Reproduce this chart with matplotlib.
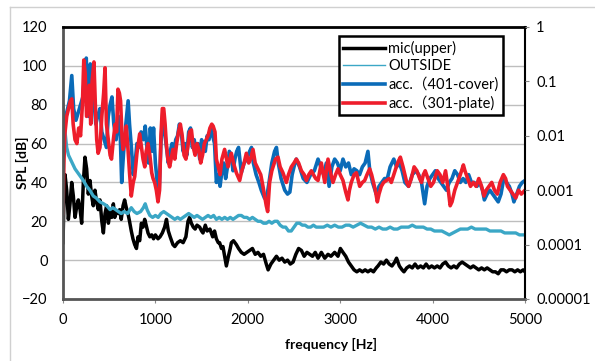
import matplotlib
matplotlib.use("Agg")
import matplotlib.pyplot as plt
import numpy as np
from matplotlib.lines import Line2D

plt.rcParams["font.family"] = ["Lato", "Noto Sans CJK JP", "DejaVu Sans"]

# (frequency [Hz], SPL [dB])
mic_upper = [
    (0, 9), (10, 30), (22, 44), (40, 36), (58, 21), (76, 29), (94, 40), (112, 33), (130, 22), (150, 28),
    (166, 31), (185, 26), (202, 19), (220, 40), (238, 53), (256, 47), (274, 34), (292, 41), (310, 33), (328, 28),
    (346, 36), (364, 30), (382, 26), (400, 31), (420, 20), (437, 14), (455, 24), (472, 28), (491, 19), (510, 25),
    (527, 22), (545, 29), (560, 22), (580, 25), (600, 24), (613, 26), (630, 21), (650, 28), (667, 31), (685, 27),
    (703, 24), (720, 20), (739, 15), (757, 11), (776, 8), (795, 6), (812, 12), (830, 10), (848, 19), (866, 17),
    (884, 21), (900, 18), (920, 14), (940, 12), (960, 13), (980, 11), (1000, 13), (1028, 11), (1050, 12), (1075, 14),
    (1100, 17), (1120, 21), (1140, 15), (1160, 12), (1190, 8), (1210, 7), (1240, 9), (1270, 10), (1300, 9), (1330, 12),
    (1353, 20), (1370, 22), (1389, 19), (1410, 17), (1430, 16), (1450, 18), (1479, 17), (1500, 15), (1515, 14), (1540, 18),
    (1560, 15), (1590, 16), (1620, 12), (1640, 15), (1660, 11), (1680, 9), (1695, 9), (1715, 6), (1731, 7), (1750, 2),
    (1768, -3), (1790, 2), (1810, 6), (1822, 9), (1845, 10), (1876, 8), (1900, 6), (1930, 4), (1960, 3), (1990, 4),
    (2020, 5), (2050, 6), (2080, 3), (2110, 4), (2140, 2), (2170, 3), (2200, -2), (2220, -5), (2250, -2), (2280, 0),
    (2310, 2), (2340, 0), (2370, 1), (2400, -1), (2430, 0), (2460, -2), (2490, -1), (2520, 3), (2550, 6), (2580, 5),
    (2610, 2), (2640, 4), (2670, 3), (2700, 2), (2730, 4), (2760, 1), (2796, 4), (2833, 1), (2868, 3), (2900, 2),
    (2940, 4), (2976, 2), (3002, 6), (3030, 4), (3060, 2), (3090, -1), (3120, -3), (3150, -5), (3180, -6), (3210, -5),
    (3240, -6), (3270, -5), (3300, -6), (3330, -5), (3360, -6), (3390, -4), (3409, -3), (3440, -1), (3470, -2), (3500, 0),
    (3530, -2), (3560, -3), (3590, -1), (3610, 1), (3640, -3), (3670, -5), (3690, -6), (3720, -4), (3750, -3), (3780, -4),
    (3810, -2), (3840, -4), (3870, -3), (3900, -4), (3930, -2), (3960, -4), (3990, -3), (4020, -4), (4050, -3), (4080, -4),
    (4110, -2), (4140, -1), (4170, -3), (4200, -4), (4230, -3), (4260, -4), (4290, -2), (4320, -1), (4350, -2), (4380, -3),
    (4410, -4), (4440, -3), (4470, -4), (4500, -5), (4530, -4), (4560, -5), (4590, -4), (4620, -5), (4650, -6), (4680, -6),
    (4710, -7), (4740, -5), (4770, -5), (4800, -6), (4830, -5), (4860, -5), (4890, -6), (4920, -5), (4950, -6), (4980, -5),
    (5000, -6),
]

outside = [
    (0, 80), (8, 74), (20, 67), (40, 58), (60, 54), (80, 52), (100, 50), (130, 47), (160, 45), (190, 43),
    (220, 41), (256, 38), (290, 36), (328, 33), (360, 32), (400, 30), (440, 29), (473, 28), (509, 26), (540, 27),
    (570, 26), (600, 25), (630, 24), (660, 25), (700, 24), (739, 27), (770, 25), (800, 24), (840, 25), (870, 27),
    (890, 29), (910, 26), (940, 23), (970, 22), (1000, 23), (1030, 22), (1060, 24), (1090, 25), (1120, 24), (1150, 23),
    (1180, 22), (1210, 21), (1240, 22), (1270, 21), (1300, 22), (1330, 23), (1360, 24), (1390, 23), (1420, 22), (1450, 23),
    (1480, 22), (1510, 21), (1540, 22), (1570, 23), (1600, 22), (1630, 23), (1660, 21), (1690, 22), (1720, 21), (1750, 22),
    (1780, 21), (1810, 22), (1840, 21), (1870, 22), (1900, 23), (1930, 23), (1960, 22), (1990, 22), (2020, 21), (2050, 22),
    (2080, 21), (2110, 20), (2140, 20), (2170, 19), (2200, 19), (2230, 20), (2260, 19), (2290, 20), (2320, 20), (2350, 18),
    (2380, 17), (2410, 17), (2440, 15), (2470, 15), (2500, 17), (2530, 19), (2560, 19), (2590, 18), (2620, 18), (2650, 17),
    (2680, 17), (2710, 18), (2740, 17), (2780, 17), (2820, 17), (2860, 18), (2900, 17), (2940, 18), (2980, 17), (3020, 17),
    (3060, 18), (3100, 18), (3140, 17), (3180, 18), (3220, 19), (3260, 18), (3300, 17), (3340, 17), (3380, 16), (3420, 17),
    (3460, 16), (3500, 16), (3540, 17), (3580, 16), (3620, 16), (3660, 17), (3700, 17), (3740, 17), (3780, 18), (3820, 17),
    (3860, 17), (3900, 17), (3940, 16), (3980, 16), (4020, 15), (4060, 15), (4100, 15), (4140, 14), (4180, 13), (4220, 14),
    (4260, 15), (4300, 16), (4340, 16), (4380, 16), (4420, 17), (4460, 16), (4500, 16), (4540, 16), (4580, 16), (4620, 15),
    (4660, 15), (4700, 15), (4740, 15), (4780, 14), (4820, 14), (4860, 14), (4900, 14), (4940, 13), (4980, 13), (5000, 13),
]

acc_401_cover = [
    (0, 60), (12, 70), (30, 74), (50, 78), (70, 82), (95, 95), (115, 78), (140, 72), (165, 76), (190, 80),
    (215, 84), (240, 100), (252, 104), (265, 80), (278, 74), (295, 101), (315, 90), (335, 82), (355, 70), (375, 74),
    (400, 78), (420, 66), (445, 62), (470, 58), (490, 74), (510, 80), (530, 84), (550, 70), (575, 62), (600, 74),
    (620, 64), (635, 40), (655, 55), (680, 70), (705, 82), (720, 70), (740, 58), (760, 44), (780, 50), (800, 60),
    (820, 58), (845, 66), (870, 62), (890, 69), (905, 60), (925, 50), (945, 68), (965, 56), (980, 68), (1000, 50),
    (1020, 40), (1040, 35), (1060, 60), (1080, 76), (1100, 66), (1120, 58), (1140, 50), (1160, 56), (1180, 60), (1200, 55),
    (1220, 62), (1240, 64), (1260, 70), (1280, 66), (1300, 56), (1320, 60), (1340, 54), (1360, 66), (1380, 68), (1400, 58),
    (1420, 62), (1440, 56), (1460, 60), (1480, 52), (1500, 62), (1520, 58), (1540, 56), (1560, 64), (1580, 62), (1600, 68),
    (1620, 64), (1640, 60), (1660, 40), (1680, 44), (1700, 38), (1720, 46), (1740, 50), (1760, 42), (1780, 48), (1800, 56),
    (1820, 54), (1840, 46), (1860, 52), (1880, 56), (1900, 58), (1930, 45), (1960, 50), (1990, 52), (2020, 56), (2040, 58),
    (2060, 50), (2090, 44), (2120, 40), (2146, 36), (2180, 32), (2200, 31), (2230, 40), (2260, 50), (2290, 56), (2310, 58),
    (2330, 50), (2360, 42), (2400, 36), (2430, 34), (2455, 35), (2480, 44), (2510, 50), (2525, 52), (2560, 48), (2600, 42),
    (2640, 40), (2680, 44), (2720, 46), (2760, 52), (2790, 48), (2820, 44), (2850, 50), (2880, 38), (2910, 48), (2940, 52),
    (2970, 50), (3000, 46), (3030, 52), (3060, 48), (3090, 50), (3120, 44), (3150, 47), (3180, 46), (3210, 44), (3240, 48),
    (3270, 50), (3300, 56), (3320, 46), (3350, 40), (3390, 34), (3420, 38), (3450, 40), (3480, 42), (3510, 42), (3540, 48),
    (3580, 52), (3610, 48), (3640, 50), (3670, 46), (3700, 40), (3740, 38), (3780, 44), (3820, 46), (3850, 44), (3880, 40),
    (3914, 29), (3940, 38), (3970, 42), (4000, 44), (4030, 46), (4060, 42), (4090, 40), (4120, 38), (4150, 36), (4180, 40),
    (4210, 42), (4240, 46), (4270, 44), (4300, 40), (4330, 42), (4360, 40), (4390, 44), (4420, 40), (4450, 40), (4480, 38),
    (4510, 40), (4540, 36), (4560, 31), (4590, 34), (4620, 36), (4650, 34), (4680, 32), (4710, 30), (4740, 34), (4770, 42),
    (4800, 40), (4830, 38), (4860, 34), (4880, 30), (4910, 34), (4940, 38), (4970, 40), (5000, 41),
]

acc_301_plate = [
    (0, 24), (10, 50), (20, 65), (40, 74), (60, 78), (80, 82), (95, 83), (110, 70), (130, 62), (150, 60),
    (170, 68), (190, 64), (210, 80), (225, 103), (240, 96), (255, 74), (270, 82), (285, 90), (300, 70), (315, 92),
    (335, 102), (350, 80), (365, 62), (380, 55), (400, 58), (420, 74), (440, 86), (455, 99), (470, 70), (490, 62),
    (510, 54), (525, 52), (545, 62), (565, 70), (580, 66), (595, 88), (610, 86), (623, 82), (640, 62), (650, 57),
    (665, 60), (685, 69), (705, 56), (720, 45), (739, 33), (760, 40), (776, 43), (800, 55), (830, 65), (850, 58),
    (866, 52), (885, 48), (900, 56), (920, 60), (940, 54), (960, 45), (975, 42), (992, 40), (1010, 36), (1028, 30),
    (1045, 36), (1060, 64), (1075, 78), (1090, 78), (1105, 70), (1118, 60), (1135, 52), (1154, 48), (1170, 52), (1190, 57),
    (1210, 52), (1230, 60), (1250, 66), (1270, 70), (1290, 64), (1310, 54), (1330, 52), (1350, 58), (1370, 66), (1390, 67),
    (1410, 58), (1430, 54), (1450, 60), (1470, 57), (1490, 50), (1510, 54), (1530, 60), (1550, 62), (1570, 64), (1590, 68),
    (1610, 70), (1625, 69), (1645, 66), (1660, 52), (1680, 48), (1700, 44), (1720, 52), (1749, 57), (1770, 52), (1786, 48),
    (1805, 52), (1822, 55), (1845, 50), (1876, 45), (1894, 43), (1912, 41), (1935, 46), (1960, 50), (1984, 55), (2010, 50),
    (2030, 52), (2056, 57), (2080, 50), (2110, 47), (2140, 44), (2164, 38), (2185, 32), (2200, 28), (2215, 25), (2236, 40),
    (2260, 46), (2273, 48), (2300, 52), (2327, 53), (2350, 48), (2380, 45), (2417, 40), (2440, 44), (2471, 48), (2500, 50),
    (2525, 52), (2550, 50), (2580, 46), (2610, 44), (2634, 41), (2660, 44), (2688, 46), (2710, 44), (2735, 42), (2760, 41),
    (2796, 50), (2833, 40), (2868, 52), (2900, 44), (2922, 40), (2950, 44), (2976, 47), (3000, 44), (3030, 41), (3060, 35),
    (3084, 31), (3100, 36), (3120, 40), (3150, 44), (3175, 45), (3211, 38), (3240, 40), (3265, 41), (3290, 44), (3319, 47),
    (3340, 44), (3355, 41), (3380, 36), (3402, 30), (3420, 34), (3445, 38), (3470, 40), (3500, 41), (3530, 42), (3553, 40),
    (3580, 44), (3607, 48), (3630, 51), (3651, 53), (3680, 48), (3700, 44), (3720, 40), (3740, 38), (3770, 42), (3800, 48),
    (3830, 46), (3860, 42), (3880, 40), (3900, 44), (3920, 46), (3950, 42), (3980, 38), (4010, 40), (4050, 46), (4080, 44),
    (4110, 40), (4140, 46), (4170, 36), (4190, 28), (4210, 30), (4240, 36), (4270, 40), (4300, 44), (4333, 49), (4350, 46),
    (4380, 42), (4410, 38), (4440, 40), (4470, 38), (4500, 42), (4530, 38), (4556, 33), (4580, 36), (4610, 38), (4640, 40),
    (4670, 36), (4700, 34), (4730, 40), (4766, 44), (4790, 42), (4810, 38), (4840, 36), (4870, 34), (4900, 32), (4930, 36),
    (4960, 34), (5000, 36),
]

right_ticks = [1e-5, 1e-4, 1e-3, 1e-2, 1e-1, 1]
right_labels = ["0.00001", "0.0001", "0.001", "0.01", "0.1", "1"]

series = [
    ("mic(upper)", mic_upper, "#000000", 2.5),
    ("OUTSIDE", outside, "#3BA7C6", 2.4),
    ("acc.\uff08401-cover)", acc_401_cover, "#0A6BB8", 2.6),
    ("acc.\uff08301-plate)", acc_301_plate, "#EE1D2B", 2.6),
]

fig = plt.figure(figsize=(5.95, 3.61), dpi=100)

# light chart-area border (left and top only are visible)
fig.add_artist(Line2D([10 / 595, 10 / 595], [0, 1 - 7 / 361], color="#D0D0D0", lw=1))
fig.add_artist(Line2D([10 / 595, 1], [1 - 7 / 361, 1 - 7 / 361], color="#D0D0D0", lw=1))

ax = fig.add_axes([63 / 595, 1 - 299 / 361, 462 / 595, 272 / 361])

for label, data, color, lw in series:
    f, spl = np.array(data, dtype=float).T
    ax.plot(f, spl, color=color, lw=lw, label=label)

ax.set_xlim(0, 5000)
ax.set_ylim(-20, 120)
ax.set_xticks(np.arange(0, 5001, 1000))
ax.set_yticks(np.arange(-20, 121, 20))
ax.grid(axis="y", color="#BEBEBE", lw=1)
ax.set_axisbelow(True)
ax.tick_params(axis="y", length=0, labelsize=10.5, pad=11)
ax.tick_params(axis="x", length=3, labelsize=10.5, color="#888888", pad=7)
for side in ["left", "bottom"]:
    ax.spines[side].set_color("#555555")
    ax.spines[side].set_linewidth(2.0)
ax.spines["top"].set_color("black")
ax.spines["top"].set_linewidth(2.0)
ax.spines["right"].set_color("black")
ax.spines["right"].set_linewidth(1.5)

ax.set_ylabel("SPL [dB]", fontsize=10, fontweight="bold")
ax.yaxis.set_label_coords((22 - 63) / 462, 0.5)
ax.set_xlabel("frequency [Hz]", fontsize=10, fontweight="bold")
ax.xaxis.set_label_coords((331 - 63) / 462, -(344 - 299) / 272)
ax.xaxis.label.set_va("center")
ax.yaxis.label.set_va("center")

ax2 = ax.twinx()
ax2.set_yscale("log")
ax2.set_ylim(1e-5, 1)
ax2.set_yticks(right_ticks)
ax2.set_yticklabels(right_labels)
ax2.yaxis.set_minor_locator(matplotlib.ticker.NullLocator())
ax2.tick_params(axis="y", length=3, labelsize=10.5, color="#888888", pad=5)
for s in ax2.spines.values():
    s.set_visible(False)

leg = ax.legend(
    loc="upper left",
    bbox_to_anchor=(0.597, 0.966),
    fontsize=10.5,
    frameon=True,
    fancybox=False,
    edgecolor="black",
    framealpha=1,
    handlelength=2.9,
    handletextpad=0.2,
    borderpad=0.3,
    labelspacing=0.25,
    borderaxespad=0,
)
leg.get_frame().set_linewidth(1.8)
leg.get_lines()[1].set_linewidth(1.0)

fig.savefig("out.png", dpi=100)
